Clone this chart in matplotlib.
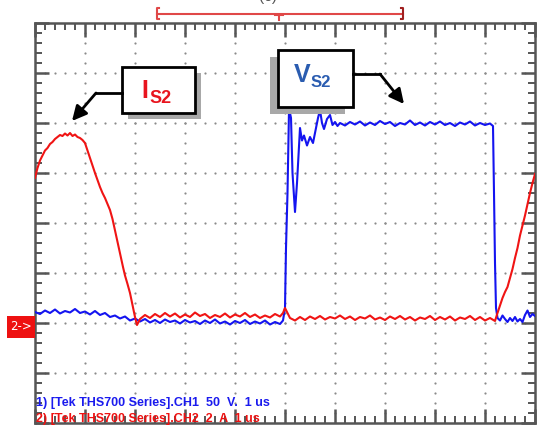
import numpy as np
import matplotlib
matplotlib.use('Agg')
import matplotlib.pyplot as plt
from matplotlib.patches import Rectangle

plt.rcParams['font.family'] = ['Liberation Sans', 'DejaVu Sans']

# screen units: 10 horizontal divisions (1 us/div), 8 vertical divisions
# CH1 (blue, V_S2), screen divisions
t_vs2 = [0.0, 0.1, 0.2, 0.3, 0.4, 0.5, 0.6, 0.7, 0.8, 0.9, 1.0, 1.1, 1.2, 1.3, 1.4,
         1.5, 1.6, 1.7, 1.8, 1.9, 2.0, 2.1, 2.2, 2.3, 2.4, 2.5, 2.6, 2.7, 2.8, 2.9,
         3.0, 3.1, 3.2, 3.3, 3.4, 3.5, 3.6, 3.7, 3.8, 3.9, 4.0, 4.1, 4.2, 4.3, 4.4,
         4.5, 4.6, 4.7, 4.8, 4.9, 4.96, 5.0, 5.02, 5.05, 5.08, 5.1, 5.12, 5.15, 5.2,
         5.24, 5.3, 5.34, 5.38, 5.44, 5.5, 5.56, 5.62, 5.66, 5.7, 5.74, 5.78, 5.84,
         5.9, 5.95, 6.0, 6.05, 6.1, 6.2, 6.3, 6.4, 6.5, 6.6, 6.7, 6.8, 6.9, 7.0, 7.1,
         7.2, 7.3, 7.4, 7.5, 7.6, 7.7, 7.8, 7.9, 8.0, 8.1, 8.2, 8.3, 8.4, 8.5, 8.6,
         8.7, 8.8, 8.9, 9.0, 9.1, 9.16, 9.18, 9.2, 9.22, 9.25, 9.3, 9.35, 9.4, 9.45,
         9.5, 9.55, 9.6, 9.65, 9.7, 9.75, 9.8, 9.85, 9.9, 9.95, 10.0]
v_vs2 = [2.22, 2.18, 2.25, 2.20, 2.27, 2.19, 2.24, 2.21, 2.28, 2.20, 2.23, 2.17, 2.24,
         2.16, 2.20, 2.12, 2.15, 2.09, 2.13, 2.05, 2.09, 2.03, 2.08, 2.01, 2.06, 2.00,
         2.07, 2.02, 2.05, 1.99, 2.06, 2.01, 2.04, 1.98, 2.05, 2.00, 2.07, 1.99, 2.03,
         1.97, 2.04, 2.00, 2.06, 1.98, 2.03, 1.99, 2.05, 1.97, 2.02, 1.98, 2.05, 2.30,
         3.50, 4.60, 6.26, 6.20, 6.10, 5.00, 4.22, 4.80, 5.90, 5.65, 5.75, 5.55, 5.72,
         5.60, 5.90, 6.10, 6.26, 6.00, 5.88, 6.08, 6.16, 5.96, 6.02, 5.94, 6.00, 5.95,
         6.02, 5.97, 6.03, 5.95, 6.01, 5.96, 6.04, 5.98, 6.02, 5.94, 6.00, 5.97, 6.05,
         5.96, 6.01, 5.95, 6.02, 5.97, 6.03, 5.96, 6.00, 5.94, 6.01, 5.97, 6.03, 5.95,
         6.00, 5.96, 5.99, 5.94, 4.60, 3.20, 2.30, 2.10, 2.05, 2.15, 2.08, 2.02, 2.10,
         2.04, 2.12, 2.03, 2.08, 2.02, 2.16, 2.25, 2.12, 2.18, 2.14]

# CH2 (red, I_S2), screen divisions
t_is2 = [0.0, 0.05, 0.1, 0.15, 0.2, 0.25, 0.3, 0.35, 0.4, 0.45, 0.5, 0.55, 0.6, 0.65,
         0.7, 0.75, 0.8, 0.85, 0.9, 0.95, 1.0, 1.05, 1.1, 1.16, 1.2, 1.25, 1.3, 1.35,
         1.4, 1.45, 1.5, 1.55, 1.6, 1.64, 1.7, 1.76, 1.8, 1.85, 1.9, 1.95, 2.0, 2.04,
         2.1, 2.2, 2.3, 2.4, 2.5, 2.6, 2.7, 2.8, 2.9, 3.0, 3.1, 3.2, 3.3, 3.4, 3.5,
         3.6, 3.7, 3.8, 3.9, 4.0, 4.1, 4.2, 4.3, 4.4, 4.5, 4.6, 4.7, 4.8, 4.9, 4.96,
         5.0, 5.04, 5.1, 5.2, 5.3, 5.4, 5.5, 5.6, 5.7, 5.8, 5.9, 6.0, 6.1, 6.2, 6.3,
         6.4, 6.5, 6.6, 6.7, 6.8, 6.9, 7.0, 7.1, 7.2, 7.3, 7.4, 7.5, 7.6, 7.7, 7.8,
         7.9, 8.0, 8.1, 8.2, 8.3, 8.4, 8.5, 8.6, 8.7, 8.8, 8.9, 9.0, 9.1, 9.2, 9.25,
         9.3, 9.35, 9.4, 9.45, 9.5, 9.55, 9.6, 9.65, 9.7, 9.75, 9.8, 9.85, 9.9, 9.95,
         10.0]
v_is2 = [4.90, 5.10, 5.25, 5.35, 5.45, 5.50, 5.58, 5.62, 5.68, 5.72, 5.76, 5.74, 5.79,
         5.75, 5.80, 5.74, 5.77, 5.72, 5.70, 5.66, 5.60, 5.45, 5.30, 5.12, 5.00, 4.86,
         4.72, 4.60, 4.50, 4.38, 4.26, 4.08, 3.85, 3.66, 3.40, 3.12, 2.95, 2.78, 2.60,
         2.36, 2.12, 1.96, 2.08, 2.16, 2.10, 2.18, 2.12, 2.20, 2.13, 2.19, 2.11, 2.17,
         2.12, 2.21, 2.14, 2.18, 2.10, 2.16, 2.12, 2.19, 2.11, 2.17, 2.13, 2.20, 2.12,
         2.17, 2.10, 2.15, 2.11, 2.18, 2.13, 2.20, 2.30, 2.22, 2.10, 2.05, 2.12, 2.06,
         2.13, 2.08, 2.14, 2.07, 2.12, 2.09, 2.15, 2.08, 2.13, 2.06, 2.12, 2.09, 2.15,
         2.07, 2.11, 2.06, 2.13, 2.08, 2.14, 2.07, 2.12, 2.05, 2.11, 2.08, 2.14, 2.06,
         2.12, 2.07, 2.13, 2.05, 2.11, 2.08, 2.14, 2.06, 2.12, 2.05, 2.10, 2.04, 2.20,
         2.35, 2.50, 2.62, 2.72, 2.90, 3.08, 3.30, 3.50, 3.75, 3.95, 4.15, 4.38, 4.60,
         4.80, 4.98]

ch1_label = '1) [Tek THS700 Series].CH1  50  V.  1 us'
ch2_label = '2) [Tek THS700 Series].CH2  2  A  1 us'

W, H = 537, 428
fig = plt.figure(figsize=(W / 100, H / 100), dpi=100)
ax = fig.add_axes([35 / W, 5 / H, 500 / W, 400 / H])
ax.set_xlim(0, 10)
ax.set_ylim(0, 8)

# graticule
frame = '#555555'
for s in ax.spines.values():
    s.set_color(frame)
    s.set_linewidth(1.8)
ax.set_xticks(np.arange(0, 11, 1))
ax.set_yticks(np.arange(0, 9, 1))
ax.set_xticks(np.arange(0, 10.01, 0.2), minor=True)
ax.set_yticks(np.arange(0, 8.01, 0.2), minor=True)
ax.tick_params(which='both', direction='in', top=True, right=True, color=frame,
               labelbottom=False, labelleft=False)
ax.tick_params(which='major', length=10, width=1.8)
ax.tick_params(which='minor', length=5, width=1.4)

gx, gy = [], []
for i in range(1, 10):
    for k in range(1, 40):
        gx.append(i); gy.append(k * 0.2)
for j in range(1, 8):
    for k in range(1, 50):
        gx.append(k * 0.2); gy.append(j)
ax.scatter(gx, gy, s=2.5, color='#8a8a8a', linewidths=0, zorder=1)

ax.plot(t_vs2, v_vs2, color='#1414f0', lw=1.5, zorder=3)
ax.plot(t_is2, v_is2, color='#f01414', lw=1.5, zorder=4)

# overlay in pixel units for the labels
ov = fig.add_axes([0, 0, 1, 1], zorder=5)
ov.set_xlim(0, W)
ov.set_ylim(H, 0)
ov.axis('off')
ov.patch.set_alpha(0)

# trigger bracket
red_b = '#e04848'
ov.plot([157, 403], [14, 14], color=red_b, lw=1.5)
ov.plot([159, 157, 157, 159], [8, 8, 19, 19], color=red_b, lw=1.5)
ov.plot([401, 403, 403, 401], [8, 8, 19, 19], color='#a02020', lw=1.5)
ov.plot([275, 283], [15, 15], color=red_b, lw=1.5)
ov.plot([279, 279], [15, 20], color=red_b, lw=1.5)
ov.text(268, -3, '(c)', ha='center', va='center', fontsize=11, color='#555555')

# I_S2 callout
ov.add_patch(Rectangle((128, 73), 73, 46, fc='#a8a8a8', ec='none'))
ov.add_patch(Rectangle((122, 67), 73, 46, fc='white', ec='black', lw=2))
ov.text(141, 98, 'I', color='#e8141e', fontsize=18, fontweight='bold', va='baseline')
ov.text(149, 103, 'S2', color='#e8141e', fontsize=13, fontweight='bold', va='baseline')
ov.plot([122, 96], [93, 93], color='black', lw=2)
ov.annotate('', xy=(72, 121), xytext=(96, 93),
            arrowprops=dict(arrowstyle='-|>', mutation_scale=22, lw=2, color='black',
                            shrinkA=0, shrinkB=0))

# V_S2 callout
ov.add_patch(Rectangle((270, 57), 75, 57, fc='#a8a8a8', ec='none'))
ov.add_patch(Rectangle((278, 50), 75, 57, fc='white', ec='black', lw=2))
ov.text(294, 82, 'V', color='#2a5cb0', fontsize=18, fontweight='bold', va='baseline')
ov.text(311, 87, 'S2', color='#2a5cb0', fontsize=12, fontweight='bold', va='baseline')
ov.plot([353, 380], [74, 74], color='black', lw=2)
ov.annotate('', xy=(404, 104), xytext=(380, 74),
            arrowprops=dict(arrowstyle='-|>', mutation_scale=22, lw=2, color='black',
                            shrinkA=0, shrinkB=0))

# CH2 ground marker
ov.add_patch(Rectangle((7, 316), 28, 22, fc='#ee1111', ec='none'))
ov.text(21, 327, '2->', color='white', fontsize=8.5, ha='center', va='center',
        family='DejaVu Sans')

# channel readouts
ov.text(36, 403, ch1_label, color='#1a1aee', fontsize=9, fontweight='bold', va='center')
ov.text(36, 419, ch2_label, color='#ee1111', fontsize=9, fontweight='bold', va='center')

fig.savefig('out.png', dpi=100)
